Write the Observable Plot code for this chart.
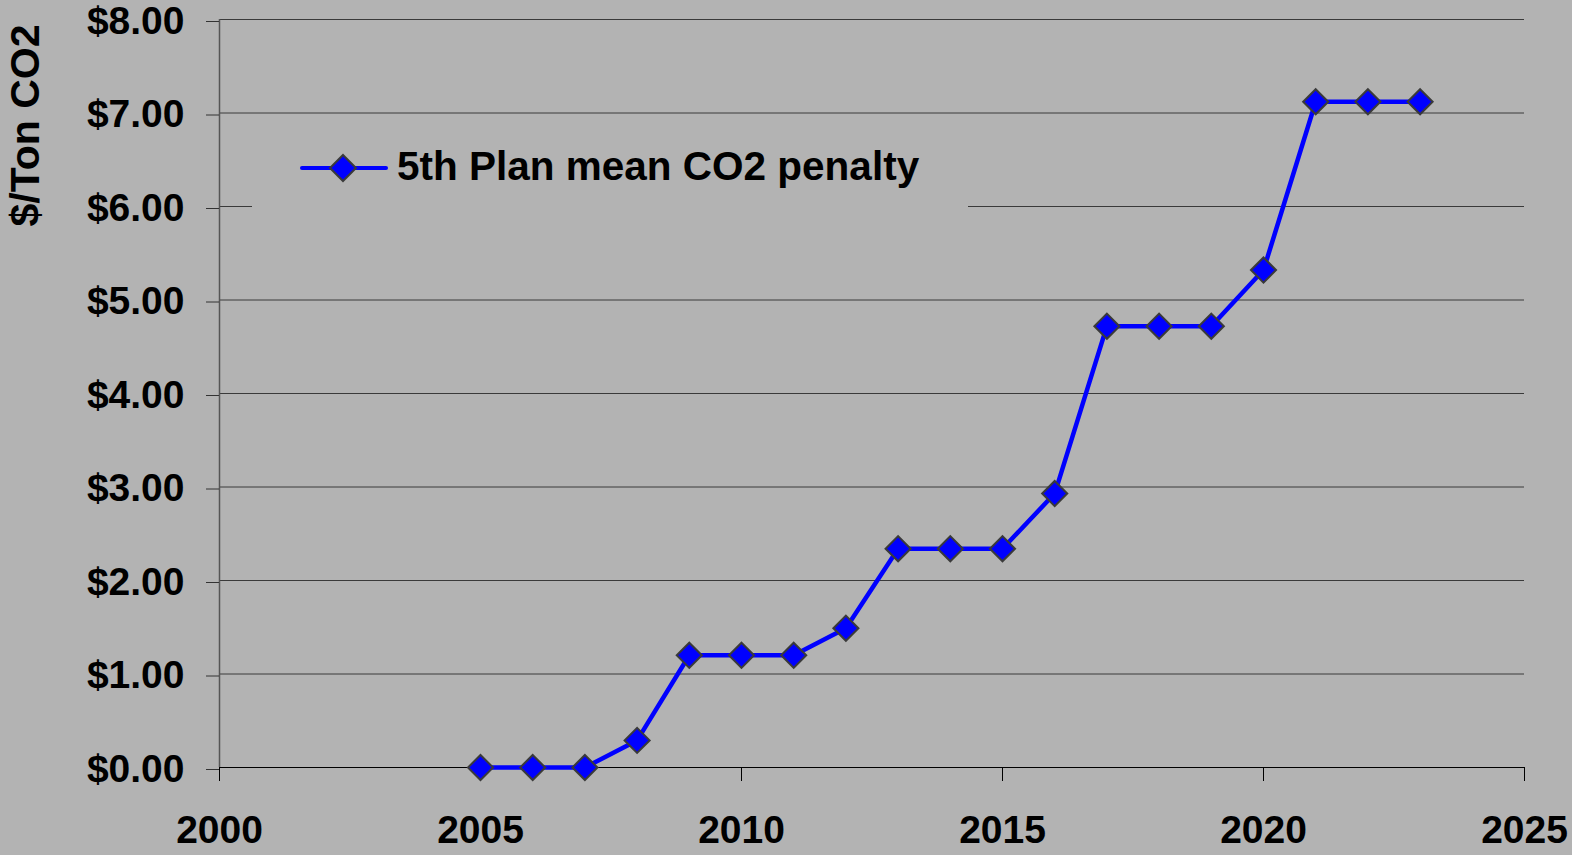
<!DOCTYPE html>
<html>
<head>
<meta charset="utf-8">
<script src="https://cdn.jsdelivr.net/npm/d3@7"></script>
<script src="https://cdn.jsdelivr.net/npm/@observablehq/plot@0.6"></script>
<style>
  html, body { margin: 0; padding: 0; background: #b3b3b3; }
  #wrap { position: relative; width: 1572px; height: 855px; overflow: hidden; }
  #legend {
    position: absolute; left: 252px; top: 120px; width: 716px; height: 96px;
    background: #b3b3b3; display: flex; align-items: center;
    font-family: "Liberation Sans", Arial, sans-serif; font-weight: bold; font-size: 40.5px; color: #000;
  }
  #legend svg { margin-left: 48px; margin-right: 9px; }
  #legend span { position: relative; top: -2px; }
</style>
</head>
<body>
<div id="wrap"></div>
<script>
const years = [2005, 2006, 2007, 2008, 2009, 2010, 2011, 2012, 2013, 2014, 2015, 2016, 2017, 2018, 2019, 2020, 2021, 2022, 2023];
const penalty = [0, 0, 0, 0.29, 1.20, 1.20, 1.20, 1.49, 2.34, 2.34, 2.34, 2.93, 4.72, 4.72, 4.72, 5.32, 7.12, 7.12, 7.12];
const xTicks = [2000, 2005, 2010, 2015, 2020, 2025];
const yTicks = [0, 1, 2, 3, 4, 5, 6, 7, 8];
const seriesName = "5th Plan mean CO2 penalty";
const yTitle = "$/Ton CO2";

const data = years.map((y, i) => ({year: y, value: penalty[i]}));

const chart = Plot.plot({
  width: 1572,
  height: 855,
  marginLeft: 219,
  marginRight: 48,
  marginTop: 19,
  marginBottom: 88,
  style: {background: "#b3b3b3", fontFamily: "'Liberation Sans', Arial, sans-serif", fontWeight: "bold", overflow: "visible", color: "#000"},
  x: {domain: [2000, 2025]},
  y: {domain: [0, 8]},
  marks: [
    Plot.gridY(yTicks.filter(d => d > 0), {stroke: "#3a3a3a", strokeOpacity: 1, strokeWidth: 1}),
    Plot.ruleX([2000], {stroke: "#555", strokeWidth: 1.5}),
    Plot.ruleY([0], {stroke: "#000", strokeWidth: 1.2}),
    Plot.axisY({ticks: yTicks, tickFormat: d => "$" + d.toFixed(2), tickSize: 13, tickPadding: 22, fontSize: 39, dy: 2, stroke: "#333", label: null}),
    Plot.axisX({ticks: xTicks, tickFormat: d => String(d), tickSize: 14, tickPadding: 34, fontSize: 39, stroke: "#000", label: null}),
    Plot.text([yTitle], {frameAnchor: "top-left", dx: -194, dy: 106, rotate: -90, textAnchor: "middle", lineAnchor: "middle", fontSize: 41, fontWeight: "bold", fill: "#000"}),
    Plot.line(data, {x: "year", y: "value", stroke: "#0000ff", strokeWidth: 4.5}),
    Plot.dot(data, {x: "year", y: "value", symbol: "diamond2", r: 11.3, fill: "#0000ff", stroke: "#3a3a3a", strokeWidth: 2})
  ]
});

const wrap = document.getElementById("wrap");
wrap.appendChild(chart);

const legend = document.createElement("div");
legend.id = "legend";
legend.innerHTML = `<svg width="88" height="30" viewBox="0 0 88 30">
  <line x1="2" y1="15" x2="86" y2="15" stroke="#0000ff" stroke-width="4" stroke-linecap="round"/>
  <path d="M43,2 L56,15 L43,28 L30,15 Z" fill="#0000ff" stroke="#3a3a3a" stroke-width="2"/>
</svg><span></span>`;
legend.querySelector("span").textContent = seriesName;
wrap.appendChild(legend);
</script>
</body>
</html>
